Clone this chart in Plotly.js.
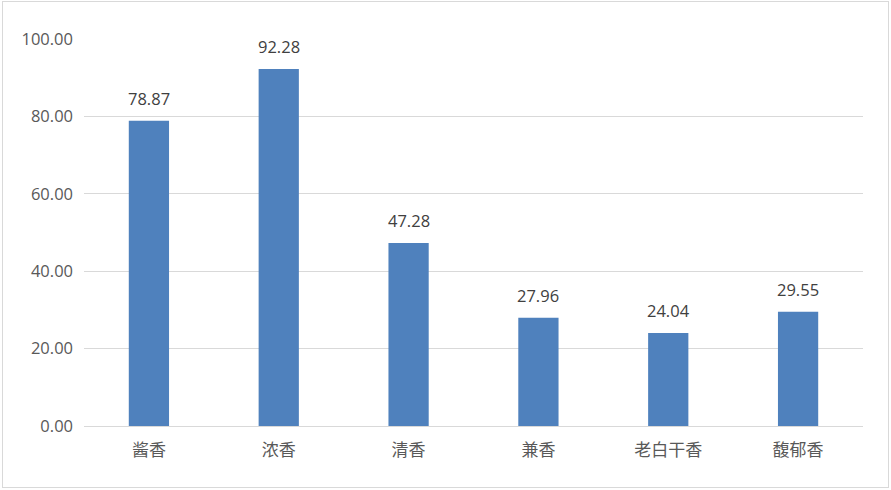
<!DOCTYPE html>
<html>
<head>
<meta charset="utf-8">
<script src="https://cdn.plot.ly/plotly-3.0.1.min.js"></script>
<style>
  html, body { margin: 0; padding: 0; background: #fff; }
  #wrap { position: relative; width: 891px; height: 490px; }
  #frame { position: absolute; left: 2px; top: 1px; width: 885px; height: 485px; border: 1px solid #d9d9d9; pointer-events: none; }
  #chart { position: absolute; left: 0; top: 0; width: 891px; height: 490px; }
</style>
</head>
<body>
<div id="wrap">
  <div id="chart"></div>
  <div id="frame"></div>
</div>
<script>
  var categories = ['酱香', '浓香', '清香', '兼香', '老白干香', '馥郁香'];
  var values = [78.87, 92.28, 47.28, 27.96, 24.04, 29.55];
  var yTicks = [0, 20, 40, 60, 80, 100];

  var labels = values.map(function(v, i) {
    return {
      x: categories[i], y: v, xref: 'x', yref: 'y',
      text: v.toFixed(2), showarrow: false,
      yanchor: 'bottom', yshift: 9,
      font: { size: 16.5, color: '#404040' }
    };
  });

  var data = [{
    type: 'bar',
    x: categories,
    y: values,
    marker: { color: '#4f81bd' },
    hoverinfo: 'x+y'
  }];

  var layout = {
    width: 891, height: 490,
    paper_bgcolor: 'rgba(0,0,0,0)',
    plot_bgcolor: '#fff',
    margin: { l: 84, r: 28, t: 39, b: 64 },
    font: { family: '"Open Sans", "Noto Sans CJK SC", sans-serif', color: '#595959', size: 16.5 },
    showlegend: false,
    bargap: 0.69,
    xaxis: {
      type: 'category',
      showgrid: false, zeroline: false,
      showline: false, ticks: '',
      ticklabelstandoff: 12,
      tickfont: { family: '"Noto Sans CJK SC", sans-serif', size: 17, color: '#595959' }
    },
    yaxis: {
      range: [0, 100],
      tickvals: yTicks,
      ticktext: yTicks.map(function(t) { return t.toFixed(2); }),
      showgrid: true, gridcolor: '#d9d9d9', gridwidth: 1,
      zeroline: true, zerolinecolor: '#d9d9d9', zerolinewidth: 1,
      showline: false, ticks: '',
      ticklabelstandoff: 10,
      tickfont: { size: 16.5, color: '#595959' }
    },
    annotations: labels
  };

  Plotly.newPlot('chart', data, layout, { displayModeBar: false, staticPlot: true });
</script>
</body>
</html>
